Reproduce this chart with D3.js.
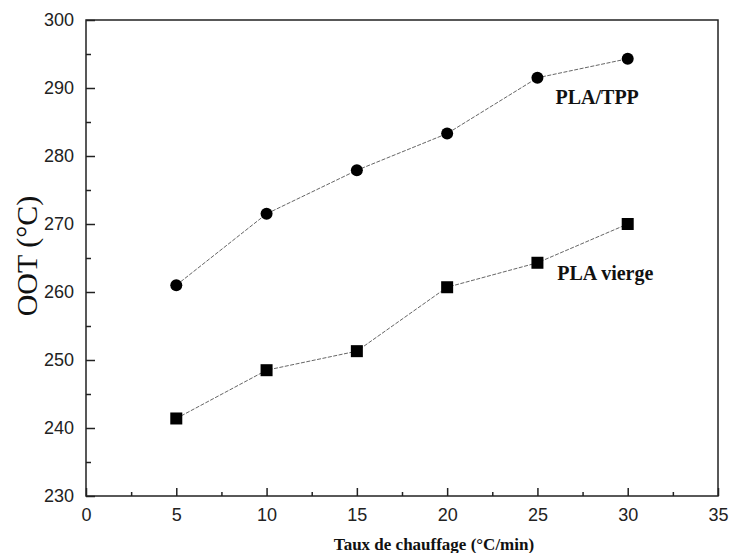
<!DOCTYPE html>
<html>
<head>
<meta charset="utf-8">
<script src="https://cdn.jsdelivr.net/npm/d3@7"></script>
<style>
  body { margin: 0; background: #fff; }
</style>
</head>
<body>
<svg id="chart"></svg>
<script>
// data
const rates = [5, 10, 15, 20, 25, 30];
const plaTpp = [261.0, 271.5, 277.9, 283.3, 291.5, 294.3];
const plaVierge = [241.4, 248.5, 251.3, 260.7, 264.3, 270.0];
const xTicks = [0, 5, 10, 15, 20, 25, 30, 35];
const yTicks = [230, 240, 250, 260, 270, 280, 290, 300];

const W = 731, H = 553;
const margin = { top: 20, right: 13, bottom: 57, left: 86 };
const width = W - margin.left - margin.right;
const height = H - margin.top - margin.bottom;

const svg = d3.select('#chart').attr('width', W).attr('height', H);
const g = svg.append('g').attr('transform', `translate(${margin.left},${margin.top})`);

const x = d3.scaleLinear().domain([0, 35]).range([0, width]);
const y = d3.scaleLinear().domain([230, 300]).range([height, 0]);

// minor ticks (inside)
g.append('g')
  .attr('transform', `translate(0,${height})`)
  .call(d3.axisBottom(x).tickValues(d3.range(2.5, 35, 5)).tickSize(-4).tickFormat(''))
  .call(a => a.select('.domain').remove())
  .selectAll('line').attr('stroke', '#222').attr('stroke-width', 1.5);

g.append('g')
  .call(d3.axisLeft(y).tickValues(d3.range(235, 300, 10)).tickSize(-5).tickFormat(''))
  .call(a => a.select('.domain').remove())
  .selectAll('line').attr('stroke', '#222').attr('stroke-width', 1.5);

// major ticks
const xAxis = g.append('g')
  .attr('transform', `translate(0,${height})`)
  .call(d3.axisBottom(x).tickValues(xTicks).tickSize(-8).tickPadding(12));
xAxis.select('.domain').remove();
xAxis.selectAll('line').attr('stroke', '#222').attr('stroke-width', 1.5);
xAxis.selectAll('text')
  .style('font-family', 'Liberation Sans, Arial, sans-serif')
  .style('font-size', '18px')
  .attr('fill', '#222');

const yAxis = g.append('g')
  .call(d3.axisLeft(y).tickValues(yTicks).tickSize(-9).tickPadding(12));
yAxis.select('.domain').remove();
yAxis.selectAll('line').attr('stroke', '#222').attr('stroke-width', 1.5);
yAxis.selectAll('text')
  .style('font-family', 'Liberation Sans, Arial, sans-serif')
  .style('font-size', '18px')
  .attr('fill', '#222');

// frame
g.append('rect')
  .attr('width', width)
  .attr('height', height)
  .attr('fill', 'none')
  .attr('stroke', '#222')
  .attr('stroke-width', 1.5);

// lines
const line = d3.line().x(d => x(d[0])).y(d => y(d[1]));
[plaTpp, plaVierge].forEach(vals => {
  g.append('path')
    .datum(rates.map((r, i) => [r, vals[i]]))
    .attr('d', line)
    .attr('fill', 'none')
    .attr('stroke', '#666')
    .attr('stroke-width', 1)
    .attr('stroke-dasharray', '4,1.5');
});

// markers
g.selectAll('circle.tpp')
  .data(rates.map((r, i) => [r, plaTpp[i]]))
  .join('circle')
  .attr('class', 'tpp')
  .attr('cx', d => x(d[0]))
  .attr('cy', d => y(d[1]))
  .attr('r', 6)
  .attr('fill', '#000');

g.selectAll('rect.vierge')
  .data(rates.map((r, i) => [r, plaVierge[i]]))
  .join('rect')
  .attr('class', 'vierge')
  .attr('x', d => x(d[0]) - 6)
  .attr('y', d => y(d[1]) - 6)
  .attr('width', 12)
  .attr('height', 12)
  .attr('fill', '#000');

// series labels
g.append('text')
  .attr('x', x(26.0))
  .attr('y', y(287.7))
  .style('font-family', 'Liberation Serif, Times New Roman, serif')
  .style('font-weight', 'bold')
  .style('font-size', '20px')
  .attr('fill', '#111')
  .text('PLA/TPP');

g.append('text')
  .attr('x', x(26.1))
  .attr('y', y(261.7))
  .style('font-family', 'Liberation Serif, Times New Roman, serif')
  .style('font-weight', 'bold')
  .style('font-size', '20px')
  .attr('fill', '#111')
  .text('PLA vierge');

// axis titles
svg.append('text')
  .attr('transform', `translate(37,${256}) rotate(-90)`)
  .attr('text-anchor', 'middle')
  .style('font-family', 'Liberation Serif, Times New Roman, serif')
  .style('font-size', '30px')
  .attr('fill', '#111')
  .text('OOT (°C)');

svg.append('text')
  .attr('x', 434)
  .attr('y', 550)
  .attr('text-anchor', 'middle')
  .style('font-family', 'Liberation Serif, Times New Roman, serif')
  .style('font-weight', 'bold')
  .style('font-size', '17px')
  .attr('fill', '#111')
  .text('Taux de chauffage (°C/min)');
</script>
</body>
</html>
